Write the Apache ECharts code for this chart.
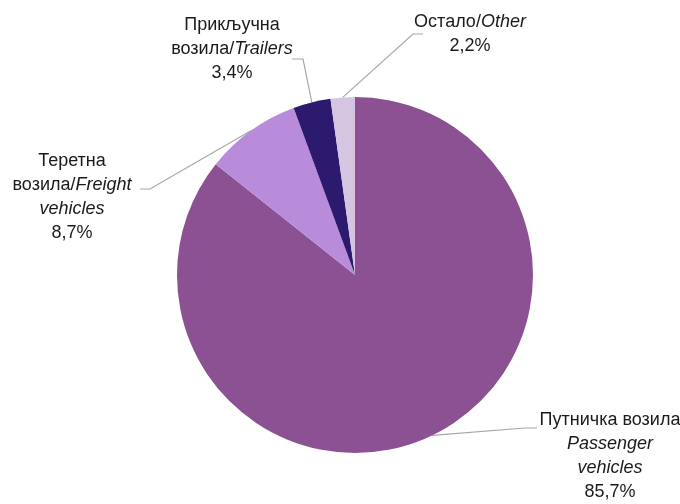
<!DOCTYPE html>
<html>
<head>
<meta charset="utf-8">
<script src="https://cdn.jsdelivr.net/npm/echarts@6/dist/echarts.min.js"></script>
<style>html,body{margin:0;padding:0;background:#fff}#c{width:680px;height:504px}</style>
</head>
<body>
<div id="c"></div>
<script>
var categoriesSr = ['Путничка возила', 'Теретна возила', 'Прикључна возила', 'Остало'];
var categoriesEn = ['Passenger vehicles', 'Freight vehicles', 'Trailers', 'Other'];
var shares = [85.7, 8.7, 3.4, 2.2];
var sliceColors = ['#8B5192', '#B98CDB', '#2B1A6E', '#D6C5E0'];

var labelTexts = [
  'Путничка возила\n{i|Passenger}\n{i|vehicles}\n85,7%',
  'Теретна\nвозила/{i|Freight}\n{i|vehicles}\n8,7%',
  'Прикључна\nвозила/{i|Trailers}\n3,4%',
  'Остало/{i|Other}\n2,2%'
];
// label placement: centre of text block, bend point and end point of leader line
var labelPos = [
  {x: 610, y: 456, bend: [525, 428], end: [537, 428]},
  {x: 72, y: 197, bend: [150, 189], end: [140, 189]},
  {x: 232, y: 49, bend: [303, 59], end: [292, 59]},
  {x: 470, y: 34, bend: [413, 34], end: [423, 34]}
];

var fontFam = "'Liberation Sans Narrow', 'Arial Narrow', 'Liberation Sans', sans-serif";
var chart = echarts.init(document.getElementById('c'));
chart.setOption({
  animation: false,
  backgroundColor: '#ffffff',
  series: [{
    type: 'pie',
    center: [355, 275],
    radius: [0, 178],
    startAngle: 90,
    clockwise: true,
    avoidLabelOverlap: false,
    data: shares.map(function (v, i) {
      return {
        name: categoriesSr[i] + ' / ' + categoriesEn[i],
        value: v,
        itemStyle: {color: sliceColors[i]},
        label: {formatter: labelTexts[i]}
      };
    }),
    itemStyle: {borderWidth: 0},
    label: {
      show: true,
      color: '#1a1a1a',
      fontFamily: fontFam,
      fontSize: 18,
      lineHeight: 24,
      align: 'center',
      rich: {
        i: {fontStyle: 'italic', fontFamily: fontFam, fontSize: 18, lineHeight: 24, color: '#1a1a1a'}
      }
    },
    labelLine: {show: true, lineStyle: {color: '#a6a6a6', width: 1.2}},
    emphasis: {disabled: true}
  }]
});
chart.setOption({
  series: [{
    labelLayout: function (p) {
      var lp = labelPos[p.dataIndex];
      var start = p.labelLinePoints ? p.labelLinePoints[0] : lp.bend;
      return {
        x: lp.x,
        y: lp.y,
        align: 'center',
        verticalAlign: 'middle',
        labelLinePoints: [start, lp.bend, lp.end]
      };
    }
  }]
});
</script>
</body>
</html>
